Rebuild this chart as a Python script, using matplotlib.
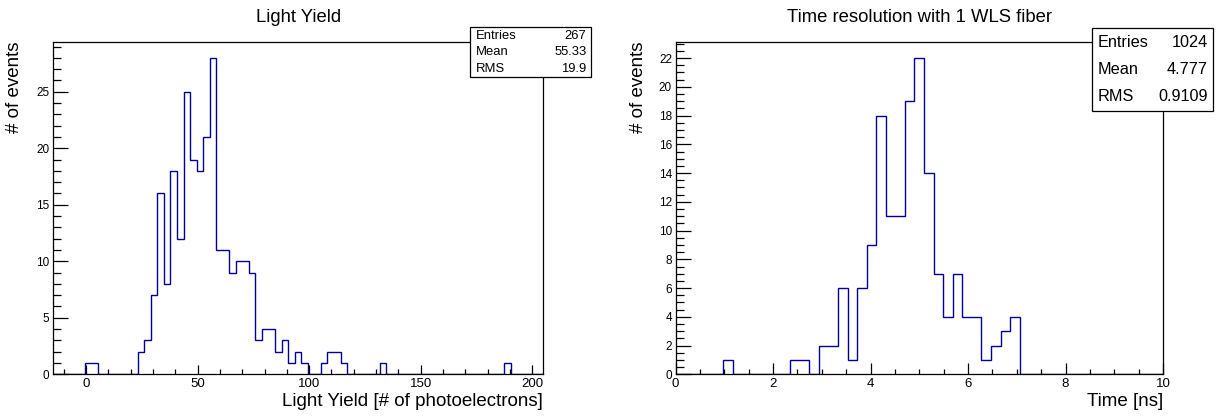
import numpy as np
import matplotlib
matplotlib.use("Agg")
import matplotlib.pyplot as plt
from matplotlib.patches import Rectangle
from matplotlib.ticker import MultipleLocator

# --- data ---
# Light yield histogram: 75 bins on [-15, 205]
ly_range = (-15, 205)
ly_counts = [0, 0, 0, 0, 0, 1, 1, 0, 0, 0,
             0, 0, 0, 2, 3, 7, 16, 8, 18, 12,
             25, 19, 18, 21, 28, 11, 11, 9, 10, 10,
             9, 3, 4, 4, 2, 3, 1, 2, 1, 0,
             0, 1, 2, 2, 1, 0, 0, 0, 0, 0,
             1, 0, 0, 0, 0, 0, 0, 0, 0, 0,
             0, 0, 0, 0, 0, 0, 0, 0, 0, 1,
             0, 0, 0, 0, 0]
ly_stats = [("Entries", "267"), ("Mean", "55.33"), ("RMS", "19.9")]

# Time histogram: 51 bins on [0, 10]
t_range = (0, 10)
t_counts = [0, 0, 0, 0, 0, 1, 0, 0, 0, 0,
            0, 0, 1, 1, 0, 2, 2, 6, 1, 6,
            9, 18, 11, 11, 19, 22, 14, 7, 4, 7,
            4, 4, 1, 2, 3, 4, 0, 0, 0, 0,
            0, 0, 0, 0, 0, 0, 0, 0, 0, 0,
            0]
t_stats = [("Entries", "1024"), ("Mean", "4.777"), ("RMS", "0.9109")]

plt.rcParams['font.family'] = ['Liberation Sans', 'DejaVu Sans']

W, H = 1220, 418
LINE = '#000099'


def fbox(l, t, r, b):
    return [l / W, 1 - b / H, (r - l) / W, (b - t) / H]


def draw_hist(ax, counts, rng, ymax):
    edges = np.linspace(rng[0], rng[1], len(counts) + 1)
    ax.stairs(counts, edges, color=LINE, lw=1.0, zorder=1)
    ax.set_xlim(rng)
    ax.set_ylim(0, ymax)
    for s in ax.spines.values():
        s.set_linewidth(0.9)
        s.set_zorder(3)


def stats_box(l, t, r, b, rows, size):
    fig.add_artist(Rectangle((l / W, 1 - b / H), (r - l) / W, (b - t) / H,
                             transform=fig.transFigure, facecolor='white',
                             edgecolor='black', lw=0.9, zorder=10))
    h = (b - t) / len(rows)
    for i, (name, val) in enumerate(rows):
        yc = 1 - (t + h * (i + 0.5)) / H
        fig.text((l + 6) / W, yc, name, ha='left', va='center', fontsize=size, zorder=11)
        fig.text((r - 5) / W, yc, val, ha='right', va='center', fontsize=size, zorder=11)


fig = plt.figure(figsize=(12.2, 4.18), dpi=100)

# left: light yield
ax1 = fig.add_axes(fbox(52.7, 42, 543.3, 374.3))
draw_hist(ax1, ly_counts, ly_range, 29.4)
ax1.xaxis.set_major_locator(MultipleLocator(50))
ax1.xaxis.set_minor_locator(MultipleLocator(10))
ax1.yaxis.set_major_locator(MultipleLocator(5))
ax1.yaxis.set_minor_locator(MultipleLocator(1))

# right: time
ax2 = fig.add_axes(fbox(675.5, 42.3, 1163, 374.3))
draw_hist(ax2, t_counts, t_range, 23.1)
ax2.xaxis.set_major_locator(MultipleLocator(2))
ax2.xaxis.set_minor_locator(MultipleLocator(0.5))
ax2.yaxis.set_major_locator(MultipleLocator(2))
ax2.yaxis.set_minor_locator(MultipleLocator(0.5))

for ax in (ax1, ax2):
    ax.tick_params(which='both', direction='in', top=False, right=False, width=0.9)
    ax.tick_params(axis='y', which='major', length=10.8, pad=2.5, labelsize=8.5)
    ax.tick_params(axis='y', which='minor', length=5.5)
    ax.tick_params(axis='x', which='major', length=6.8, pad=2.5, labelsize=9.5)
    ax.tick_params(axis='x', which='minor', length=3.3)
ax2.tick_params(axis='x', which='major', length=7.8)
ax2.tick_params(axis='x', which='minor', length=3.8)

# titles and axis titles
fig.text(299 / W, 1 - 22 / H, 'Light Yield', ha='center', va='baseline', fontsize=13.3)
fig.text(920 / W, 1 - 22 / H, 'Time resolution with 1 WLS fiber', ha='center',
         va='baseline', fontsize=13.3)
fig.text(15 / W, 1 - 41.7 / H, '# of events', rotation=90, ha='center', va='top', fontsize=13.5)
fig.text(638 / W, 1 - 41.7 / H, '# of events', rotation=90, ha='center', va='top', fontsize=13.5)
fig.text(543.3 / W, 1 - 406 / H, 'Light Yield [# of photoelectrons]', ha='right',
         va='baseline', fontsize=13.5)
fig.text(1163 / W, 1 - 406 / H, 'Time [ns]', ha='right', va='baseline', fontsize=13.5)

stats_box(470, 27.3, 591.3, 77.3, ly_stats, 9.4)
stats_box(1091.7, 28.3, 1213, 110.7, t_stats, 11.7)

fig.savefig('out.png', dpi=100)
